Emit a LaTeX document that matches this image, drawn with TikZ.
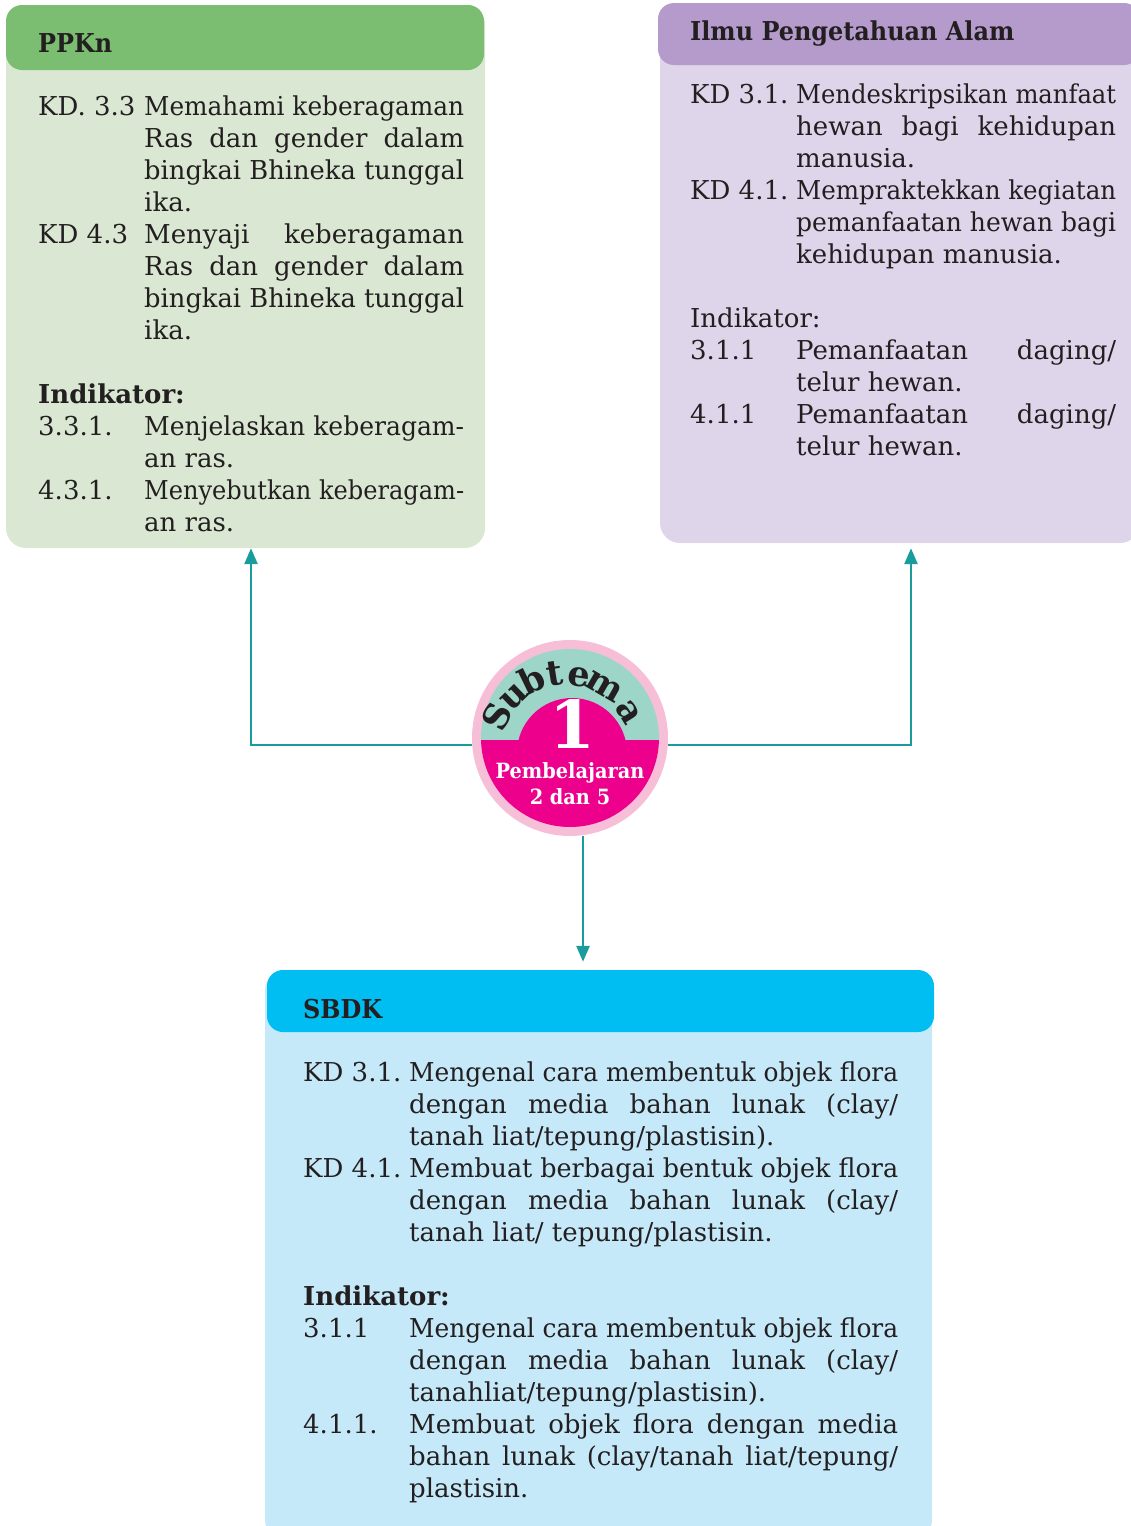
\documentclass[tikz,border=0pt]{standalone}
\usepackage{fontspec}
\usepackage{graphicx}
\setmainfont{DejaVu Serif}
\newfontface\ttlfont{DejaVu Serif Bold}[FakeStretch=0.92]
\usetikzlibrary{arrows.meta,calc}
\definecolor{ink}{HTML}{231F20}
\definecolor{ppkhead}{HTML}{7BBD71}
\definecolor{ppkbody}{HTML}{DAE8D3}
\definecolor{ipahead}{HTML}{B59BCB}
\definecolor{ipabody}{HTML}{DED5EA}
\definecolor{sbdkhead}{HTML}{00BDF2}
\definecolor{sbdkbody}{HTML}{C6E9F9}
\definecolor{tealline}{HTML}{1A9C9C}
\definecolor{pinkring}{HTML}{F6BFD7}
\definecolor{tealcap}{HTML}{9DD5C9}
\definecolor{magentaA}{HTML}{EC008C}
\newlength\lw
\newlength\tw
\newlength\natw
\newcommand\FitL[1]{\settowidth\natw{#1}\ifdim\natw>\tw\resizebox{\tw}{\height}{#1}\else\makebox[\tw][s]{#1}\fi}
\newcommand\JL[2]{\makebox[\lw][l]{#1}\FitL{#2}\par}
\newcommand\NL[2]{\makebox[\lw][l]{#1}#2\par}
\newcommand\GapL{\vspace{32pt}}
\begin{document}
\begin{tikzpicture}[x=1pt,y=1pt,
  box/.style={rounded corners=20pt, inner sep=0pt, draw=none},
  hdr/.style={rounded corners=16pt, inner sep=0pt, draw=none},
  title/.style={anchor=base west, inner sep=0pt, font=\fontsize{26}{32}\selectfont\ttlfont, text=ink},
  body/.style={anchor=base west, inner sep=0pt, font=\fontsize{26}{32}\selectfont, text=ink},
  conn/.style={draw=tealline, line width=2.6pt, -{Triangle[width=13pt,length=16pt]}},
  arcl/.style={anchor=base, inner sep=0pt, text=ink, font=\fontsize{35}{35}\selectfont\bfseries},
]
\useasboundingbox (0,0) rectangle (1131,-1526);

% PPKn
\node[box, fill=ppkbody, minimum width=479pt, minimum height=543pt] (ppkn) at (245.5,-276.5) {};
\node[hdr, fill=ppkhead, minimum width=478pt, minimum height=65pt] (ppknh) at (245,-37.5) {};
\node[title] (ppknt) at (38,-52) {PPKn};
\node[body] (ppknb) at (38,-115) {\parbox[t]{426pt}{\setlength\lw{106pt}\setlength\tw{320pt}%
\JL{KD. 3.3}{Memahami keberagaman}
\JL{}{Ras dan gender dalam}
\JL{}{bingkai Bhineka tunggal}
\NL{}{ika.}
\JL{KD 4.3}{Menyaji keberagaman}
\JL{}{Ras dan gender dalam}
\JL{}{bingkai Bhineka tunggal}
\NL{}{ika.}
\GapL
\textbf{Indikator:}\par
\JL{3.3.1.}{Menjelaskan keberagam-}
\NL{}{an ras.}
\JL{4.3.1.}{Menyebutkan keberagam-}
\NL{}{an ras.}}};

% IPA
\node[box, fill=ipabody, minimum width=480pt, minimum height=540pt] (ipa) at (900,-273) {};
\node[hdr, fill=ipahead, minimum width=482pt, minimum height=62pt] (ipah) at (899,-34) {};
\node[title] (ipat) at (690,-40) {Ilmu Pengetahuan Alam};
\node[body] (ipab) at (690,-103) {\parbox[t]{426pt}{\setlength\lw{106pt}\setlength\tw{320pt}%
\JL{KD 3.1.}{Mendeskripsikan manfaat}
\JL{}{hewan bagi kehidupan}
\NL{}{manusia.}
\JL{KD 4.1.}{Mempraktekkan kegiatan}
\JL{}{pemanfaatan hewan bagi}
\NL{}{kehidupan manusia.}
\GapL
Indikator:\par
\JL{3.1.1}{Pemanfaatan daging/}
\NL{}{telur hewan.}
\JL{4.1.1}{Pemanfaatan daging/}
\NL{}{telur hewan.}}};

% SBDK
\node[box, fill=sbdkbody, minimum width=667pt, minimum height=570pt] (sbdk) at (598.5,-1255) {};
\node[hdr, fill=sbdkhead, minimum width=667pt, minimum height=62pt] (sbdkh) at (600.5,-1001) {};
\node[title] (sbdkt) at (303,-1018) {SBDK};
\node[body] (sbdkb) at (303,-1081) {\parbox[t]{595pt}{\setlength\lw{106pt}\setlength\tw{489pt}%
\JL{KD 3.1.}{Mengenal cara membentuk objek flora}
\JL{}{dengan media bahan lunak (clay/}
\NL{}{tanah liat/tepung/plastisin).}
\JL{KD 4.1.}{Membuat berbagai bentuk objek flora}
\JL{}{dengan media bahan lunak (clay/}
\NL{}{tanah liat/ tepung/plastisin.}
\GapL
\textbf{Indikator:}\par
\JL{3.1.1}{Mengenal cara membentuk objek flora}
\JL{}{dengan media bahan lunak (clay/}
\NL{}{tanahliat/tepung/plastisin).}
\JL{4.1.1.}{Membuat objek flora dengan media}
\JL{}{bahan lunak (clay/tanah liat/tepung/}
\NL{}{plastisin.}}};

% Subtema badge
\node[circle, fill=pinkring, minimum size=196pt, inner sep=0pt] (subtema) at (570,-738) {};
\draw[conn] ([yshift=-7pt]subtema.west) -| ([xshift=5.5pt]ppkn.south);
\draw[conn] ([yshift=-7pt]subtema.east) -| ([xshift=11pt,yshift=-5pt]ipa.south);
\draw[conn] ([xshift=13pt]subtema.south) -- ([xshift=-15.5pt,yshift=8pt]sbdk.north);
\begin{scope}
  \clip (570,-738) circle (89);
  \fill[tealcap] (470,-640) rectangle (670,-740);
  \fill[magentaA] (470,-740) rectangle (670,-840);
  \fill[magentaA] (572,-753) circle (55);
\end{scope}
\coordinate (arcc) at (566,-750);
\node[arcl, rotate=63]  (lS) at ($(arcc)+(154:64)$) {S};
\node[arcl, rotate=44]  (lu) at ($(arcc)+(134:65)$) {u};
\node[arcl, rotate=26]  (lb) at ($(arcc)+(116:65)$) {b};
\node[arcl, rotate=9]   (lt) at ($(arcc)+(98:65)$) {t};
\node[arcl, rotate=-9]  (le) at ($(arcc)+(80:65)$) {e};
\node[arcl, rotate=-30] (lm) at ($(arcc)+(59:65)$) {m};
\node[arcl, rotate=-58] (la) at ($(arcc)+(31:64)$) {a};
\node[inner sep=0pt, text=white, font=\fontsize{66}{66}\selectfont\bfseries] (one) at (572,-724) {1};
\node[inner sep=0pt, text=white, font=\fontsize{21}{26}\selectfont\ttlfont, align=center] (pemb) at (570,-784) {Pembelajaran\\2 dan 5};
\end{tikzpicture}
\end{document}
